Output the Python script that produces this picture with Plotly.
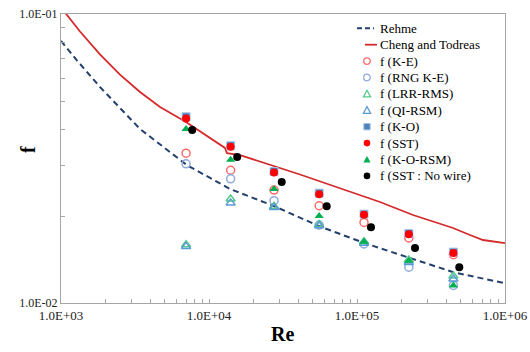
import plotly.graph_objects as go

# ---------------- data ----------------
re_cases = [7000, 14000, 27500, 55500, 111500, 224000, 448000]
re_nowire = [7700, 15500, 31000, 62400, 124300, 246500, 491000]

f_ke = [0.0330, 0.0288, 0.0246, 0.0217, 0.0190, 0.0168, 0.0147]
f_rng_ke = [0.0303, 0.0269, 0.0226, 0.0186, 0.0160, 0.0133, 0.0115]
f_lrr_rms = [0.0159, 0.0229, 0.0216, 0.0187, 0.0163, 0.0141, 0.0124]
f_qi_rsm = [0.0157, 0.0222, 0.0214, 0.0185, 0.0161, 0.0138, 0.0121]
f_ko = [0.0441, 0.0350, 0.0285, 0.0240, 0.0203, 0.0174, 0.0150]
f_sst = [0.0435, 0.0347, 0.0283, 0.0238, 0.0202, 0.0173, 0.0149]
f_ko_rsm = [0.0400, 0.0313, 0.0248, 0.0200, 0.0163, 0.0140, 0.0115]
f_sst_nowire = [0.0397, 0.0320, 0.0262, 0.0216, 0.0183, 0.0155, 0.0133]

re_rehme = [1000, 1276, 1834, 3419, 7097, 13870, 27180, 55300, 111500, 224300, 447800, 1000000]
f_rehme = [0.0807, 0.0693, 0.0559, 0.0400, 0.0300, 0.0248, 0.0217, 0.01846, 0.01614, 0.01432, 0.01278, 0.0117]

re_cheng = [1000, 1344, 1834, 2503, 3419, 4667, 6991, 9397, 12820, 13230, 16200, 41190,
            76740, 143000, 239000, 445300, 580000, 710400, 1000000]
f_cheng = [0.1054, 0.0870, 0.0725, 0.0617, 0.0537, 0.0477, 0.0423, 0.0383, 0.0344, 0.0330, 0.0325, 0.02784,
           0.02489, 0.02236, 0.02016, 0.01818, 0.01719, 0.01652, 0.01612]

series_names = ["Rehme", "Cheng and Todreas", "f (K-E)", "f (RNG K-E)", "f (LRR-RMS)",
                "f (QI-RSM)", "f (K-O)", "f (SST)", "f (K-O-RSM)", "f (SST : No wire)"]

x_tickvals = [1e3, 1e4, 1e5, 1e6]
x_ticktext = ["1.0E+03", "1.0E+04", "1.0E+05", "1.0E+06"]
y_tickvals = [0.01, 0.1]
y_ticktext = ["1.0E-02", "1.0E-01"]

SERIF = "Liberation Serif"

# styles
st = {
    "Rehme": dict(kind="line", color="#24406e", width=2, dash="6px,4px"),
    "Cheng and Todreas": dict(kind="line", color="#d42a2a", width=1.8, dash="solid"),
    "f (K-E)": dict(kind="marker", symbol="circle-open", color="#ff6b6b", size=8, lw=1.5, lc="#ff6b6b"),
    "f (RNG K-E)": dict(kind="marker", symbol="circle-open", color="#8eaadb", size=8, lw=1.5, lc="#8eaadb"),
    "f (LRR-RMS)": dict(kind="marker", symbol="triangle-up-open", color="#55c98a", size=8, lw=1.5, lc="#55c98a"),
    "f (QI-RSM)": dict(kind="marker", symbol="triangle-up-open", color="#5b9bd5", size=8, lw=1.5, lc="#5b9bd5"),
    "f (K-O)": dict(kind="marker", symbol="square", color="#4f81bd", size=8, lw=1, lc="#a9c4e8"),
    "f (SST)": dict(kind="marker", symbol="circle", color="#ff0000", size=8, lw=0, lc="#ff0000"),
    "f (K-O-RSM)": dict(kind="marker", symbol="triangle-up", color="#00b050", size=8, lw=0, lc="#00b050"),
    "f (SST : No wire)": dict(kind="marker", symbol="circle", color="#000000", size=8, lw=0, lc="#000000"),
}

data_map = {
    "Rehme": (re_rehme, f_rehme),
    "Cheng and Todreas": (re_cheng, f_cheng),
    "f (K-E)": (re_cases, f_ke),
    "f (RNG K-E)": (re_cases, f_rng_ke),
    "f (LRR-RMS)": (re_cases, f_lrr_rms),
    "f (QI-RSM)": (re_cases, f_qi_rsm),
    "f (K-O)": (re_cases, f_ko),
    "f (SST)": (re_cases, f_sst),
    "f (K-O-RSM)": (re_cases, f_ko_rsm),
    "f (SST : No wire)": (re_nowire, f_sst_nowire),
}

fig = go.Figure()
for name in series_names:
    x, y = data_map[name]
    s = st[name]
    if s["kind"] == "line":
        fig.add_trace(go.Scatter(x=x, y=y, mode="lines", name=name, showlegend=False,
                                 line=dict(color=s["color"], width=s["width"], dash=s["dash"])))
    else:
        fig.add_trace(go.Scatter(x=x, y=y, mode="markers", name=name, showlegend=False,
                                 marker=dict(symbol=s["symbol"], size=s["size"], color=s["color"],
                                             line=dict(width=s["lw"], color=s["lc"]))))

# ---------------- layout geometry ----------------
W, H = 530, 352
ML, MR, MT, MB = 61, 25, 14, 49
PW, PH = W - ML - MR, H - MT - MB


def px_x(x):
    return (x - ML) / PW


def px_y(y):
    return 1 - (y - MT) / PH


# ---------------- manual legend (keys as layout shapes, labels as text) ----------------
leg_y0, leg_dy = 28.3, 16.4
leg_text_x = 378
leg_key_x = 367
shapes = []
for i, name in enumerate(series_names):
    cy = leg_y0 + i * leg_dy
    s = st[name]
    fig.add_annotation(text=name, x=px_x(leg_text_x), y=px_y(cy), xref="paper", yref="paper",
                       xanchor="left", yanchor="middle", showarrow=False,
                       font=dict(family=SERIF, size=13, color="#000000"))
    if name == "Rehme":
        shapes.append(dict(type="line", xref="paper", yref="paper", x0=px_x(357), x1=px_x(374),
                           y0=px_y(cy), y1=px_y(cy),
                           line=dict(color=s["color"], width=2, dash="5px,3px")))
    elif name == "Cheng and Todreas":
        shapes.append(dict(type="line", xref="paper", yref="paper", x0=px_x(365), x1=px_x(377),
                           y0=px_y(cy), y1=px_y(cy), line=dict(color=s["color"], width=1.8)))
    else:
        sym = s["symbol"]
        filled = not sym.endswith("-open")
        fill = s["color"] if filled else "rgba(0,0,0,0)"
        lw = 1.3 if not filled else (1 if sym == "square" else 0)
        lc = s["lc"]
        base = dict(xref="paper", yref="paper", xsizemode="pixel", ysizemode="pixel",
                    xanchor=px_x(leg_key_x), yanchor=px_y(cy), fillcolor=fill,
                    line=dict(color=lc, width=lw))
        if sym.startswith("circle"):
            r = 3.3
            shapes.append(dict(type="circle", x0=-r, x1=r, y0=-r, y1=r, **base))
        elif sym.startswith("square"):
            r = 3.2
            shapes.append(dict(type="rect", x0=-r, x1=r, y0=-r, y1=r, **base))
        else:
            shapes.append(dict(type="path", path="M-3.6,-3 L3.6,-3 L0,3.6 Z", **base))

axis_gray = "#a6a6a6"
fig.update_xaxes(type="log", range=[3, 6], tickmode="array", tickvals=x_tickvals,
                 ticktext=x_ticktext, ticks="inside", ticklen=4, tickcolor=axis_gray,
                 showgrid=False, zeroline=False, showline=True, linecolor=axis_gray,
                 linewidth=1, mirror=True, automargin=False,
                 minor=dict(dtick="D1", ticks="inside", ticklen=4, tickcolor=axis_gray, showgrid=False),
                 tickfont=dict(family=SERIF, size=13, color="#222222"))
fig.update_yaxes(type="log", range=[-2, -1], tickmode="array", tickvals=y_tickvals,
                 ticktext=y_ticktext, ticks="inside", ticklen=4, tickcolor=axis_gray,
                 showgrid=False, zeroline=False, showline=True, linecolor=axis_gray,
                 linewidth=1, mirror=True, automargin=False,
                 minor=dict(dtick="D1", ticks="inside", ticklen=4, tickcolor=axis_gray, showgrid=False),
                 tickfont=dict(family=SERIF, size=12, color="#222222"))

fig.add_annotation(text="<b>Re</b>", x=px_x(282), y=px_y(334), xref="paper", yref="paper",
                   showarrow=False, font=dict(family=SERIF, size=20, color="#000000"),
                   xanchor="center", yanchor="middle")
fig.add_annotation(text="<b>f</b>", x=px_x(28), y=px_y(150), xref="paper", yref="paper",
                   showarrow=False, textangle=-90, font=dict(family=SERIF, size=20, color="#000000"),
                   xanchor="center", yanchor="middle")

fig.update_layout(
    width=W, height=H,
    margin=dict(l=ML, r=MR, t=MT, b=MB, autoexpand=False),
    paper_bgcolor="white", plot_bgcolor="white",
    showlegend=False,
    shapes=shapes,
)

# the page body gets no default 8px margin, so the figure sits at the window's top-left
fig.write_html("out.html", config={"displayModeBar": False},
               post_script="document.body.style.margin='0';")
